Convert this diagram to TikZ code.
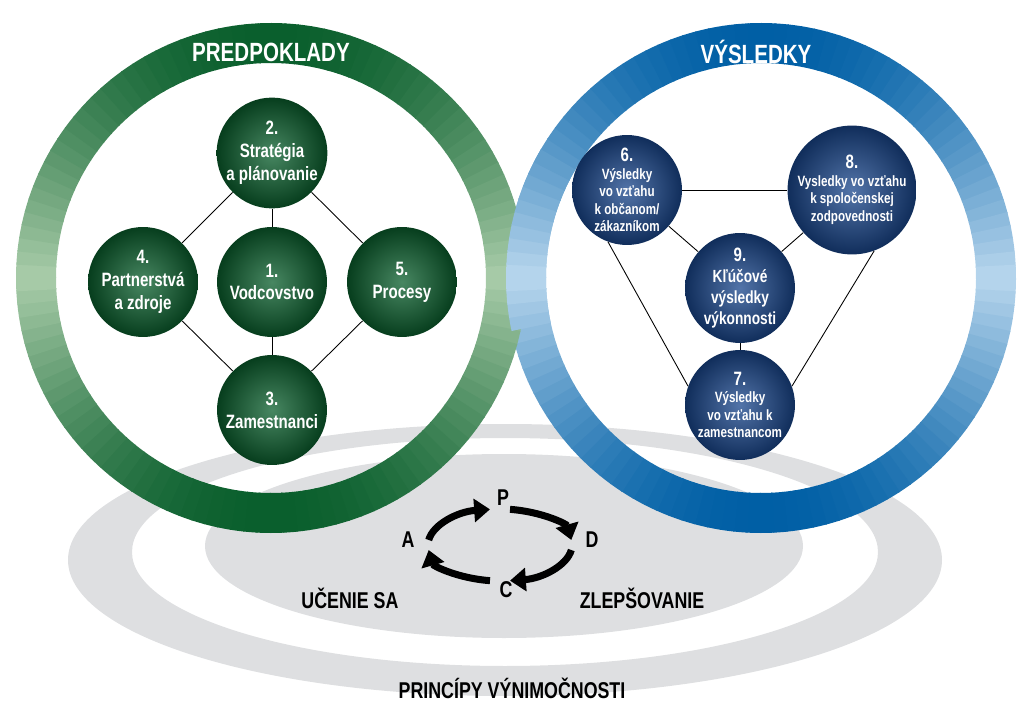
\documentclass[tikz,border=0pt]{standalone}
\usepackage{fontspec}
\setmainfont{Liberation Sans}[FakeStretch=0.78]
\usetikzlibrary{arrows.meta}
\definecolor{gdark}{RGB}{10,95,45}
\definecolor{glight}{RGB}{170,205,170}
\definecolor{bdark}{RGB}{0,95,165}
\definecolor{blight}{RGB}{185,215,238}
\definecolor{navy}{RGB}{25,70,140}
\definecolor{grayring}{RGB}{222,223,225}
\tikzset{gnode/.style={circle,minimum size=2.2cm,inner sep=0pt,shading=radial,
        inner color=gdark!75!white,outer color=gdark!65!black,
        text=white,align=center,font=\bfseries\fontsize{11}{13}\selectfont},
    bnode/.style={circle,minimum size=2.2cm,inner sep=0pt,shading=radial,
        inner color=navy!75!white,outer color=navy!65!black,
        text=white,align=center,font=\bfseries\fontsize{8.5}{10}\selectfont},
    link/.style={draw,black,line width=0.5pt},
    title/.style={text=white,font=\bfseries\fontsize{15}{16}\selectfont},
    caption/.style={font=\bfseries\fontsize{13}{14}\selectfont},
    pdca/.style={line width=4pt,-{Triangle[length=9pt,width=13pt]}}}
\newcommand{\ringpart}[6]{% centre, from, to, dark, light
    \foreach \a in {#2,#3,...,#4} {
        \pgfmathsetmacro\m{100*abs(sin(\a+1.5))}
        \fill[#5!\m!#6] ([shift={(\a:255)}]#1) arc[start angle=\a,delta angle=3.3,radius=255]
            -- ([shift={(\a+3.3:215)}]#1) arc[start angle=\a+3.3,delta angle=-3.3,radius=215] -- cycle;
    }}
\begin{document}
\begin{tikzpicture}[x=0.02cm,y=-0.02cm]
    \useasboundingbox (0,0) rectangle (1024,719);
    % principles
    \fill[grayring,even odd rule] (505,560) ellipse[x radius=437,y radius=136]
        (505,552) ellipse[x radius=373,y radius=114];
    \fill[grayring] (504,546) ellipse[x radius=299,y radius=92];
    % rings
    \coordinate (gc) at (271,278);
    \coordinate (bc) at (761,278);
    \ringpart{bc}{0}{3}{357}{bdark}{blight}
    \ringpart{gc}{0}{3}{357}{gdark}{glight}
    \ringpart{bc}{168}{171}{207}{bdark}{blight}
    \node[title] (pre) at (271,52) {PREDPOKLADY};
    \node[title] (vys) at (756,52) {VÝSLEDKY};
    % enablers
    \node[gnode] (n2) at (272,153) {2.\\Stratégia\\a plánovanie};
    \node[gnode] (n4) at (143,282) {4.\\Partnerstvá\\a zdroje};
    \node[gnode] (n1) at (272,282) {1.\\Vodcovstvo};
    \node[gnode] (n5) at (402,282) {5.\\Procesy};
    \node[gnode] (n3) at (272,410) {3.\\Zamestnanci};
    \draw[link] (n2) -- (n4);
    \draw[link] (n2) -- (n5);
    \draw[link] (n4) -- (n3);
    \draw[link] (n5) -- (n3);
    \draw[link] (n2) -- (n1);
    \draw[link] (n1) -- (n3);
    % results
    \node[bnode] (n6) at (627,190) {{\fontsize{11}{13}\selectfont 6.}\\Výsledky\\vo vzťahu\\k občanom/\\zákazníkom};
    \node[bnode] (n8) at (852,190) {{\fontsize{11}{13}\selectfont 8.}\\Vysledky vo vzťahu\\k spoločenskej\\zodpovednosti};
    \node[bnode,font=\bfseries\fontsize{10}{12}\selectfont] (n9) at (740,288) {{\fontsize{11}{13}\selectfont 9.}\\Kľúčové\\výsledky\\výkonnosti};
    \node[bnode] (n7) at (740,405) {{\fontsize{11}{13}\selectfont 7.}\\Výsledky\\vo vzťahu k\\zamestnancom};
    \draw[link] (n6) -- (n8);
    \draw[link] (n6) -- (n9);
    \draw[link] (n8) -- (n9);
    \draw[link] (n9) -- (n7);
    \draw[link] (n6.250) -- (n7.160);
    \draw[link] (n8.290) -- (n7.20);
    % PDCA
    \coordinate (pc) at (500,545);
    \draw[pdca] ([shift={(-82:72 and 36)}]pc) arc[start angle=-82,end angle=-8,x radius=72,y radius=36];
    \draw[pdca] ([shift={(8:72 and 36)}]pc) arc[start angle=8,end angle=82,x radius=72,y radius=36];
    \draw[pdca] ([shift={(98:72 and 36)}]pc) arc[start angle=98,end angle=172,x radius=72,y radius=36];
    \draw[pdca] ([shift={(188:72 and 36)}]pc) arc[start angle=188,end angle=262,x radius=72,y radius=36];
    \node[caption] (p) at (503,498) {P};
    \node[caption] (d) at (592,540) {D};
    \node[caption] (c) at (506,590) {C};
    \node[caption] (a) at (408,540) {A};
    \node[caption] (uc) at (350,598) {UČENIE SA};
    \node[caption] (zl) at (642,598) {ZLEPŠOVANIE};
    \node[caption] (pr) at (512,688) {PRINCÍPY VÝNIMOČNOSTI};
\end{tikzpicture}
\end{document}
